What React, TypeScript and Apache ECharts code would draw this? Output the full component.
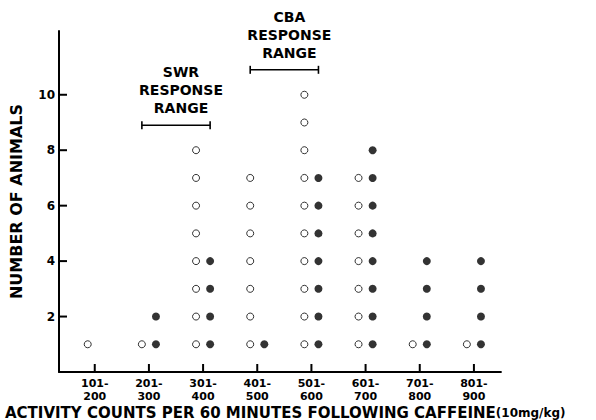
import React, { useEffect, useRef } from "react";
import * as echarts from "echarts";

const categories = ["101-\n200", "201-\n300", "301-\n400", "401-\n500", "501-\n600", "601-\n700", "701-\n800", "801-\n900"];
const openCounts = [1, 1, 8, 7, 10, 7, 1, 1];
const filledCounts = [0, 2, 4, 1, 7, 8, 4, 4];
const yTicks = [2, 4, 6, 8, 10];
const rangeLabels = ["SWR\nRESPONSE\nRANGE", "CBA\nRESPONSE\nRANGE"];
const rangeFrom = [2, 4];
const rangeTo = [3, 5];
const rangeLevel = [8.9, 10.9];

const FONT = "DejaVu Sans";
const OFF = 0.13;
const X_MIN = 0.34;
const X_MAX = 8.5;
const Y_MAX = 12.3;

export default function App() {
  const ref = useRef<HTMLDivElement>(null);
  useEffect(() => {
    if (!ref.current) return;
    const chart = echarts.init(ref.current, null, { renderer: "svg" });
    const openData: number[][] = [];
    const filledData: number[][] = [];
    categories.forEach((_, i) => {
      for (let k = 1; k <= openCounts[i]; k++) openData.push([i + 1 - OFF, k]);
      for (let k = 1; k <= filledCounts[i]; k++) filledData.push([i + 1 + OFF, k]);
    });
    const rangeData = rangeLabels.map((_, i) => [rangeFrom[i] - OFF, rangeTo[i] + OFF, rangeLevel[i]]);
    // tick marks: [x, y, direction] (0 = vertical tick on x axis, 1 = horizontal tick on y axis)
    const tickData: number[][] = [
      ...categories.map((_, i) => [i + 1, 0, 0]),
      ...yTicks.map((v) => [X_MIN, v, 1]),
    ];
    chart.setOption({
      animation: false,
      backgroundColor: "#fff",
      textStyle: { fontFamily: FONT, fontWeight: "bold", color: "#000" },
      grid: { left: 57, right: 95, top: 31, bottom: 48 },
      xAxis: {
        type: "value",
        min: X_MIN,
        max: X_MAX,
        splitLine: { show: false },
        axisLine: { show: true, lineStyle: { color: "#000", width: 1.8 } },
        axisTick: { show: false },
        axisLabel: {
          customValues: [1, 2, 3, 4, 5, 6, 7, 8],
          formatter: (v: number) => categories[Math.round(v) - 1] ?? "",
          color: "#000",
          fontFamily: FONT,
          fontWeight: "bold",
          fontSize: 11,
          lineHeight: 13,
          margin: 5,
        },
      },
      yAxis: {
        type: "value",
        min: 0,
        max: Y_MAX,
        splitLine: { show: false },
        name: "NUMBER OF ANIMALS",
        nameLocation: "middle",
        nameRotate: 90,
        nameGap: 35,
        nameTextStyle: { fontFamily: FONT, fontWeight: "bold", fontSize: 16, color: "#000" },
        axisLine: { show: true, lineStyle: { color: "#000", width: 2 } },
        axisTick: { show: false },
        axisLabel: { customValues: yTicks, color: "#000", fontFamily: FONT, fontWeight: "bold", fontSize: 12, margin: 4 },
      },
      graphic: [
        {
          type: "text",
          left: 5,
          top: 405,
          style: {
            text: "{a|ACTIVITY COUNTS PER 60 MINUTES FOLLOWING CAFFEINE}{b|(10mg/kg)}",
            rich: {
              a: { fontFamily: FONT, fontWeight: "bold", fontSize: 15, fill: "#000" },
              b: { fontFamily: FONT, fontWeight: "bold", fontSize: 12, fill: "#000" },
            },
          },
        },
      ],
      series: [
        {
          type: "custom",
          data: tickData,
          clip: false,
          silent: true,
          renderItem: (_params: any, api: any) => {
            const p = api.coord([api.value(0), api.value(1)]);
            const horiz = api.value(2) === 1;
            const ls = { stroke: "#000", lineWidth: 2 };
            return {
              type: "group",
              children: [
                {
                  type: "line",
                  shape: horiz
                    ? { x1: p[0], y1: p[1], x2: p[0] + 8, y2: p[1] }
                    : { x1: p[0], y1: p[1], x2: p[0], y2: p[1] - 8 },
                  style: ls,
                },
              ],
            };
          },
        },
        {
          type: "scatter",
          data: openData,
          symbol: "circle",
          symbolSize: 7,
          itemStyle: { color: "#fff", borderColor: "#000", borderWidth: 1 },
        },
        {
          type: "scatter",
          data: filledData,
          symbol: "circle",
          symbolSize: 8,
          itemStyle: { color: "#000" },
        },
        {
          type: "custom",
          data: rangeData,
          clip: false,
          renderItem: (params: any, api: any) => {
            const y = api.value(2);
            const p1 = api.coord([api.value(0), y]);
            const p2 = api.coord([api.value(1), y]);
            const ls = { stroke: "#000", lineWidth: 1.6 };
            return {
              type: "group",
              children: [
                { type: "line", shape: { x1: p1[0], y1: p1[1], x2: p2[0], y2: p2[1] }, style: ls },
                { type: "line", shape: { x1: p1[0], y1: p1[1] - 4, x2: p1[0], y2: p1[1] + 4 }, style: ls },
                { type: "line", shape: { x1: p2[0], y1: p2[1] - 4, x2: p2[0], y2: p2[1] + 4 }, style: ls },
                {
                  type: "text",
                  x: (p1[0] + p2[0]) / 2 + 5,
                  y: p1[1] - 8,
                  style: {
                    text: rangeLabels[params.dataIndex],
                    fill: "#000",
                    font: `bold 14px "${FONT}"`,
                    align: "center",
                    verticalAlign: "bottom",
                    lineHeight: 18,
                  },
                },
              ],
            };
          },
        },
      ],
    });
    return () => chart.dispose();
  }, []);
  return <div ref={ref} style={{ width: 596, height: 420, position: "absolute", left: 0, top: 0, background: "#fff" }} />;
}
